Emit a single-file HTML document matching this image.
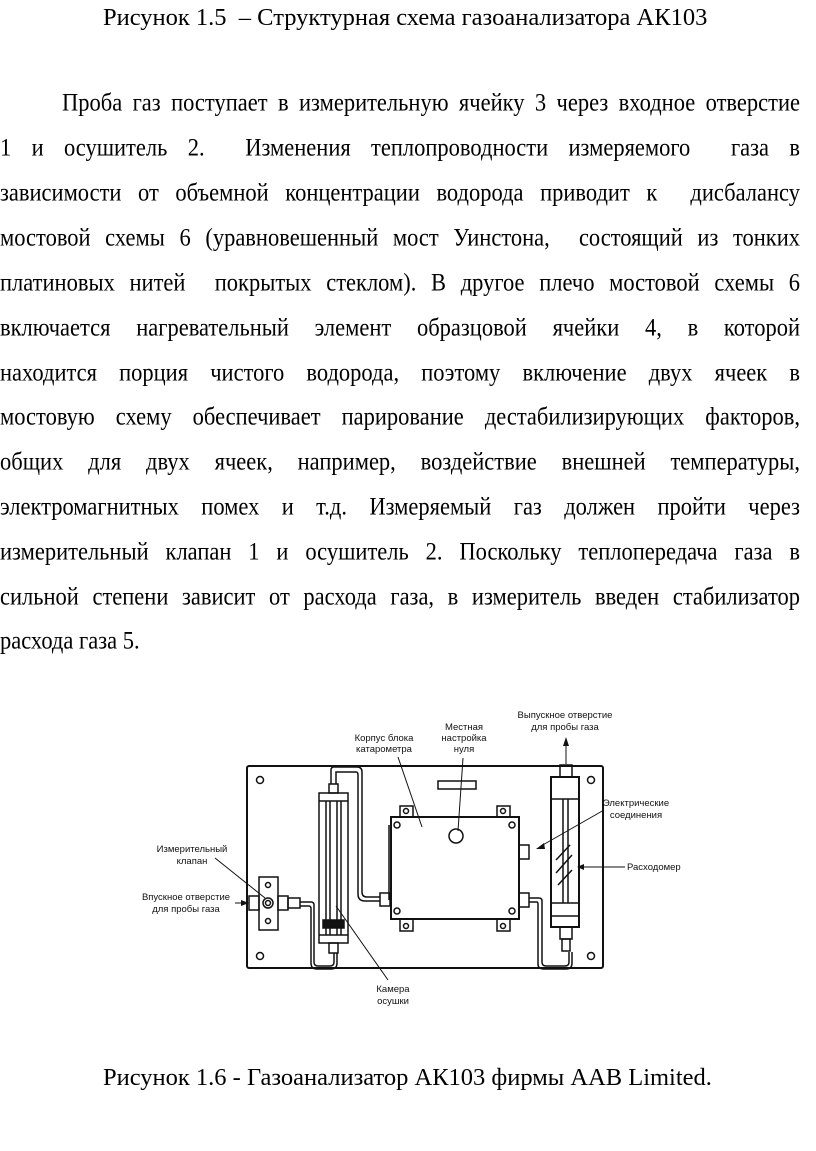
<!DOCTYPE html>
<html><head><meta charset="utf-8">
<style>
html,body{margin:0;padding:0;background:#fff;}
body{width:816px;height:1151px;position:relative;overflow:hidden;font-family:"Liberation Serif","Noto Serif CJK SC",serif;color:#000;}
.t{position:absolute;font-size:24.5px;line-height:28px;white-space:nowrap;}
.l{position:absolute;left:0;width:800px;font-size:22.5px;line-height:26px;text-align:justify;text-align-last:justify;height:26px;overflow:hidden;transform:scaleY(1.12);transform-origin:0 0;}
.l.i{left:62px;width:738px;}
.l.e{text-align-last:left;}
svg text{font-family:"Liberation Sans",sans-serif;font-size:9.5px;fill:#111;}
</style></head><body>
<div class="t" style="left:103px;top:4px;">Рисунок 1.5 &nbsp;– Структурная схема газоанализатора АК103</div>
<div class="l i" style="top:88px;">Проба газ поступает в измерительную ячейку 3 через входное отверстие</div>
<div class="l" style="top:133px;">1 и осушитель 2. &nbsp;Изменения теплопроводности измеряемого &nbsp;газа в</div>
<div class="l" style="top:178px;">зависимости от объемной концентрации водорода приводит к &nbsp;дисбалансу</div>
<div class="l" style="top:223px;">мостовой схемы 6 (уравновешенный мост Уинстона, &nbsp;состоящий из тонких</div>
<div class="l" style="top:268px;">платиновых нитей &nbsp;покрытых стеклом). В другое плечо мостовой схемы 6</div>
<div class="l" style="top:313px;">включается нагревательный элемент образцовой ячейки 4, в которой</div>
<div class="l" style="top:358px;">находится порция чистого водорода, поэтому включение двух ячеек в</div>
<div class="l" style="top:402px;">мостовую схему обеспечивает парирование дестабилизирующих факторов,</div>
<div class="l" style="top:447px;">общих для двух ячеек, например, воздействие внешней температуры,</div>
<div class="l" style="top:492px;">электромагнитных помех и т.д. Измеряемый газ должен пройти через</div>
<div class="l" style="top:537px;">измерительный клапан 1 и осушитель 2. Поскольку теплопередача газа в</div>
<div class="l" style="top:582px;">сильной степени зависит от расхода газа, в измеритель введен стабилизатор</div>
<div class="l e" style="top:626px;">расхода газа 5.</div>

<svg style="position:absolute;left:0;top:0" width="816" height="1151" viewBox="0 0 816 1151" fill="none" stroke="#111" stroke-width="1.5">
<rect x="247" y="766" width="356" height="202" rx="2" stroke-width="2"/>
<circle cx="260" cy="780" r="3.5"/><circle cx="591" cy="780" r="3.5"/>
<circle cx="260" cy="956" r="3.5"/><circle cx="591" cy="956" r="3.5"/>
<rect x="319" y="793" width="29" height="150"/>
<line x1="319" y1="801" x2="348" y2="801"/>
<line x1="319" y1="935" x2="348" y2="935"/>
<line x1="330" y1="801" x2="330" y2="935"/><line x1="337" y1="801" x2="337" y2="935"/>
<line x1="326" y1="801" x2="326" y2="935"/><line x1="341" y1="801" x2="341" y2="935"/>
<rect x="323" y="920" width="21" height="8" fill="#111"/>
<rect x="329" y="784" width="9" height="9"/><rect x="329" y="943" width="9" height="10"/>
<path d="M331 784 V770 Q331 767 334 767 H357 Q362 767 362 772 V892 Q362 897 367 897 H380"/>
<path d="M336 784 V772 H356 Q358 772 358 775 V894 Q358 901 365 901 H380"/>
<rect x="380" y="893" width="10" height="13"/>
<path d="M300 902 H311 Q314 902 314 905 V962 Q314 966 318 966 H330 Q334 966 334 962 V953"/>
<path d="M300 906 H309 Q311 906 311 909 V963 Q311 969 317 969 H331 Q337 969 337 963 V953"/>
<rect x="259" y="877" width="19" height="53"/>
<circle cx="268" cy="885" r="2.5"/><circle cx="268" cy="921" r="2.5"/>
<circle cx="268" cy="903" r="5"/><circle cx="268" cy="903" r="2.5"/>
<rect x="249" y="896" width="10" height="14"/>
<rect x="278" y="896" width="10" height="14"/><rect x="288" y="898" width="12" height="10"/>
<rect x="391" y="817" width="128" height="102" stroke-width="2"/>
<line x1="389" y1="825" x2="389" y2="900"/>
<circle cx="397" cy="825" r="3"/><circle cx="512" cy="825" r="3"/>
<circle cx="397" cy="911" r="3"/><circle cx="512" cy="911" r="3"/>
<rect x="400" y="806" width="13" height="11"/><circle cx="406" cy="811" r="2.5"/>
<rect x="497" y="806" width="13" height="11"/><circle cx="503" cy="811" r="2.5"/>
<rect x="400" y="919" width="13" height="12"/><circle cx="406" cy="926" r="2.5"/>
<rect x="497" y="919" width="13" height="12"/><circle cx="503" cy="926" r="2.5"/>
<circle cx="456" cy="836" r="7"/>
<rect x="438" y="781" width="38" height="8"/>
<rect x="519" y="845" width="10" height="14"/>
<rect x="519" y="893" width="10" height="14"/>
<path d="M529 898 H539 Q542 898 542 901 V962 Q542 966 546 966 H565 Q569 966 569 962 V952"/>
<path d="M529 902 H537 Q538 902 538 905 V964 Q538 969 544 969 H566 Q572 969 572 963 V952"/>
<rect x="551" y="777" width="28" height="150" stroke-width="2"/>
<line x1="551" y1="799" x2="579" y2="799"/><line x1="551" y1="903" x2="579" y2="903"/>
<line x1="551" y1="916" x2="579" y2="916"/>
<line x1="563" y1="799" x2="563" y2="903"/><line x1="568" y1="799" x2="568" y2="903"/>
<line x1="556" y1="860" x2="570" y2="845"/><line x1="556" y1="873" x2="572" y2="855"/><line x1="558" y1="885" x2="572" y2="870"/>
<rect x="560" y="765" width="12" height="12"/><rect x="560" y="927" width="12" height="12"/>
<rect x="562" y="939" width="8" height="12"/>
<g stroke-width="1">
<line x1="566" y1="764" x2="566" y2="745"/>
<line x1="398" y1="757" x2="422" y2="827"/>
<line x1="463" y1="758" x2="458" y2="831"/>
<line x1="604" y1="810" x2="541" y2="846"/>
<line x1="625" y1="867" x2="582" y2="867"/>
<line x1="215" y1="858" x2="265" y2="898"/>
<line x1="235" y1="903" x2="245" y2="903"/>
<line x1="336" y1="906" x2="388" y2="980"/>
</g>
<g fill="#111" stroke="none">
<polygon points="566,737 563,746 569,746"/>
<polygon points="249,903 241,900 241,906"/>
<polygon points="536,849 544,843 545,849"/>
<polygon points="577,867 584,864 584,870"/>
</g>
<g stroke="none">
<text x="384" y="741" text-anchor="middle">Корпус блока</text>
<text x="384" y="752" text-anchor="middle">катарометра</text>
<text x="464" y="730" text-anchor="middle">Местная</text>
<text x="464" y="741" text-anchor="middle">настройка</text>
<text x="464" y="752" text-anchor="middle">нуля</text>
<text x="565" y="718" text-anchor="middle">Выпускное отверстие</text>
<text x="565" y="730" text-anchor="middle">для пробы газа</text>
<text x="636" y="806" text-anchor="middle">Электрические</text>
<text x="636" y="818" text-anchor="middle">соединения</text>
<text x="627" y="870">Расходомер</text>
<text x="192" y="852" text-anchor="middle">Измерительный</text>
<text x="192" y="864" text-anchor="middle">клапан</text>
<text x="186" y="900" text-anchor="middle">Впускное отверстие</text>
<text x="186" y="912" text-anchor="middle">для пробы газа</text>
<text x="393" y="992" text-anchor="middle">Камера</text>
<text x="393" y="1004" text-anchor="middle">осушки</text>
</g>
</svg>

<div class="t" style="left:103px;top:1064px;">Рисунок 1.6 - Газоанализатор АК103 фирмы ААВ Limited.</div>
</body></html>
